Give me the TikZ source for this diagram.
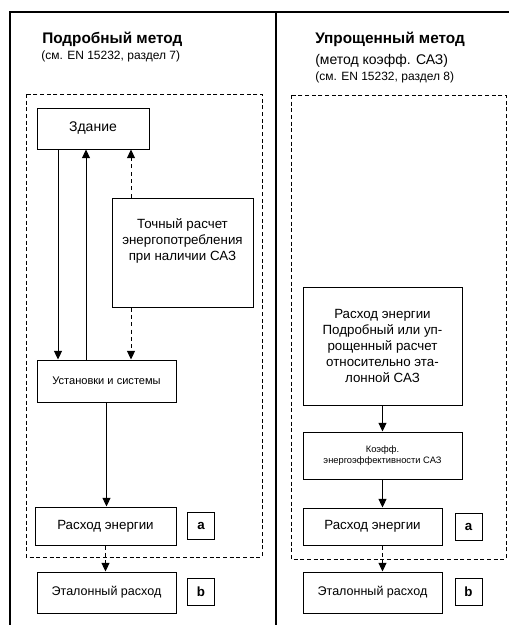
\documentclass[tikz,border=0pt]{standalone}
\usepackage{fontspec}
\setmainfont{Liberation Sans}
\usetikzlibrary{arrows.meta}

\def\px{0.75pt}
\newcommand{\fs}[1]{\fontsize{#1}{1.2\dimexpr #1pt\relax}\selectfont}

\tikzset{
  box/.style={draw, line width=0.75pt, inner sep=0pt, align=center},
  tag/.style={box, minimum width=27*\px, minimum height=27*\px, font=\bfseries\fs{10}},
  flow/.style={-{Triangle[length=6.5pt,width=6pt]}, line width=0.75pt},
  ghost/.style={flow, dash pattern=on 3pt off 2.5pt},
  frame/.style={dash pattern=on 3pt off 2pt, line width=0.7pt}
}

\begin{document}
\begin{tikzpicture}[x=\px, y=-\px]
  \useasboundingbox (0,0) rectangle (509,625);

  % outer frame
  \draw[line width=0.8pt] (509,12) -- (10,12) -- (10,625);
  \draw[line width=0.8pt] (276,12) -- (276,625);

  % headings
  \node[anchor=base west, inner sep=0pt, font=\bfseries\fs{11.5}] (tl1) at (42,43) {Подробный метод};
  \node[anchor=base west, inner sep=0pt, font=\fs{9}]             (tl2) at (41,59) {(см. EN 15232, раздел 7)};
  \node[anchor=base west, inner sep=0pt, font=\bfseries\fs{11.5}] (tr1) at (315,43) {Упрощенный метод};
  \node[anchor=base west, inner sep=0pt, font=\fs{10.5}]          (tr2) at (315,64) {(метод коэфф. САЗ)};
  \node[anchor=base west, inner sep=0pt, font=\fs{9}]             (tr3) at (315,80) {(см. EN 15232, раздел 8)};

  % dashed frames
  \draw[frame] (26,94) rectangle (262,557);
  \draw[frame] (291,95) rectangle (506,559);

  % left: detailed method
  \node[box, minimum width=112*\px, minimum height=41*\px, font=\fs{10.5}] (zd) at (93,128.5) {Здание};
  \node[box, minimum width=141*\px, minimum height=109*\px] (toch) at (182.5,252.5) {};
  \node[align=center, inner sep=0pt, font=\fs{10}] (tochtxt) at (182.5,241) {Точный расчет\\энергопотребления\\при наличии САЗ};
  \node[box, minimum width=139*\px, minimum height=42*\px, font=\fs{8.3}] (ust) at (106.5,381) {Установки и системы};
  \node[box, minimum width=141*\px, minimum height=38*\px, font=\fs{10}] (rasL) at (105.5,526) {Расход энергии};
  \node[tag] (aL) at (201,525.5) {a};
  \node[box, minimum width=139*\px, minimum height=41*\px, font=\fs{9.4}] (etL) at (106.5,592.5) {Эталонный расход};
  \node[tag] (bL) at (201,592) {b};

  \coordinate (xa) at (58,0);
  \coordinate (xb) at (86,0);
  \coordinate (xc) at (131,0);
  \draw[flow]  (zd.south -| xa) -- (ust.north -| xa);
  \draw[flow]  (ust.north -| xb) -- (zd.south -| xb);
  \draw[ghost] (toch.north -| xc) -- (zd.south -| xc);
  \draw[ghost] (toch.south -| xc) -- (ust.north -| xc);
  \draw[flow]  (ust.south) -- (ust.south |- rasL.north);
  \draw[ghost] (rasL.south) -- (rasL.south |- etL.north);

  % right: simplified method
  \node[box, minimum width=159*\px, minimum height=118*\px, font=\fs{10}] (ras1) at (382.5,346)
    {Расход энергии\\Подробный или уп-\\рощенный расчет\\относительно эта-\\лонной САЗ};
  \node[box, minimum width=159*\px, minimum height=47*\px, font=\fs{7}] (koef) at (382.5,455.5)
    {Коэфф.\\энергоэффективности САЗ};
  \node[box, minimum width=139*\px, minimum height=37*\px, font=\fs{10}] (rasR) at (372.5,526.5) {Расход энергии};
  \node[tag] (aR) at (468.5,526.5) {a};
  \node[box, minimum width=139*\px, minimum height=41*\px, font=\fs{9.4}] (etR) at (372.5,592.5) {Эталонный расход};
  \node[tag] (bR) at (468.5,592) {b};

  \draw[flow]  (ras1.south) -- (koef.north);
  \draw[flow]  (koef.south) -- (koef.south |- rasR.north);
  \draw[ghost] (koef.south |- rasR.south) -- (koef.south |- etR.north);
\end{tikzpicture}
\end{document}
